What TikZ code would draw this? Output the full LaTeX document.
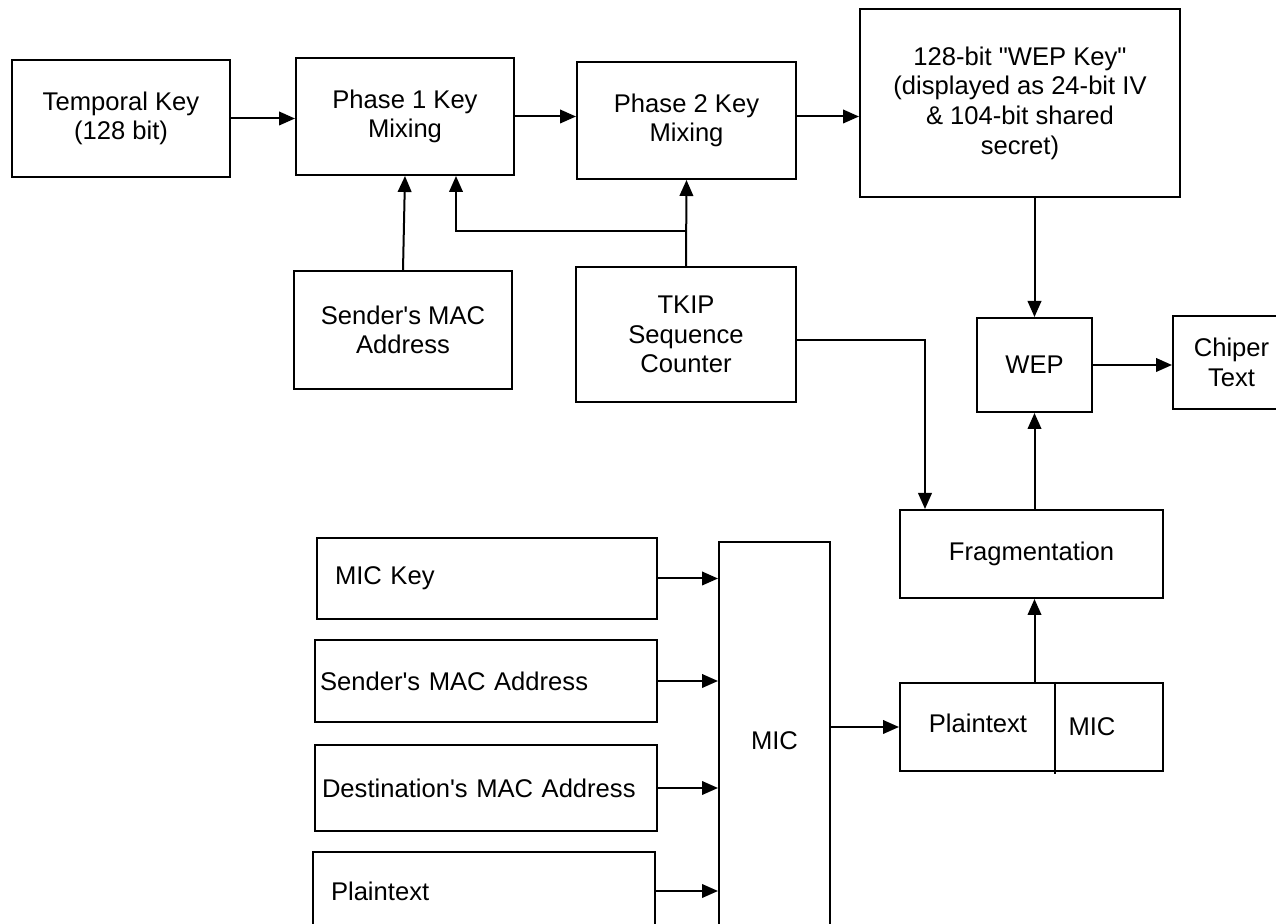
\documentclass[tikz,border=0pt]{standalone}
\usepackage{fontspec}
\setmainfont{Liberation Sans}
\usetikzlibrary{arrows.meta, calc}
\tikzset{
  lbl/.style={font=\fontsize{12.8}{14.8}\selectfont},
  blk/.style={lbl, draw, line width=1pt, inner sep=0pt, align=center},
  inbox/.style={blk, align=left, minimum height=#1},
  flow/.style={line width=1pt, -{Triangle[length=8pt, width=6.8pt]}},
}

\begin{document}
\begin{tikzpicture}[x=0.5pt, y=-0.5pt]
  \useasboundingbox (0,0) rectangle (1276,924);
  \clip (0,0) rectangle (1276,924);

  % key mixing part
  \node[blk, minimum width=109pt, minimum height=58.5pt] (tk) at (121,118.5) {Temporal Key\\(128 bit)};
  \node[blk, minimum width=109pt, minimum height=58.5pt] (p1) at (405,116.5) {Phase 1 Key\\Mixing};
  \node[blk, minimum width=109.5pt, minimum height=58.5pt] (p2) at (686.5,120.5) {Phase 2 Key\\Mixing};
  \node[blk, minimum width=160pt, minimum height=94pt] (wk) at (1020,103) {128-bit \textquotedbl WEP Key\textquotedbl\\(displayed as 24-bit IV\\\& 104-bit shared\\secret)};
  \node[blk, minimum width=109pt, minimum height=59pt] (sm) at (403,330) {Sender\textquotesingle s MAC\\Address};
  \node[blk, minimum width=110pt, minimum height=67.5pt] (tkip) at (686,334.5) {TKIP\\Sequence\\Counter};
  \node[blk, minimum width=57.5pt, minimum height=47pt] (wep) at (1034.5,365) {WEP};
  \node[blk, minimum width=58.5pt, minimum height=46.5pt] (ct) at (1231.5,362.5) {Chiper\\Text};
  \node[blk, minimum width=131.5pt, minimum height=44pt] (frag) at (1031.5,554) {Fragmentation};

  % MIC part
  \node[inbox=40.5pt, inner xsep=9pt, text width=152pt] (mk) at (487,578.5) {MIC Key};
  \node[inbox=41pt, inner xsep=2.5pt, text width=166pt] (sma) at (486,681) {Sender\textquotesingle s MAC Address};
  \node[inbox=43pt, inner xsep=3.5pt, text width=164pt] (dma) at (486,788) {Destination\textquotesingle s MAC Address};
  \node[inbox=39pt, inner xsep=9pt, text width=153pt] (pt) at (484,891) {Plaintext};
  \node[blk, minimum width=55.5pt, minimum height=199pt] (mic) at (774.5,741) {MIC};
  \node[blk, minimum width=131.5pt, minimum height=44pt] (pm) at (1031.5,727) {};
  \draw[line width=1pt] ($(pm.north west)+(156,0)$) -- ($(pm.south west)+(156,2)$);
  \node[lbl] (pmtext) at (978,723) {Plaintext};
  \node[lbl] (pmmic) at (1092,727) {MIC};

  % arrows
  \draw[flow] (tk.east) -- (tk.east -| p1.west);
  \draw[flow] (p1.east) -- (p1.east -| p2.west);
  \draw[flow] (p1.east -| p2.east) -- (p1.east -| wk.west);
  \draw[flow] (sm.north) -- (p1.south);
  \draw[flow] (tkip.north) -- (p2.south);
  \coordinate (fork) at (tkip.north |- 0,231);
  \draw[flow] (fork) -| ($(p1.south)+(51,0)$);
  \draw[flow] ([yshift=-3pt]tkip.east) -| ($(frag.north west)+(26,0)$);
  \draw[flow] (wk.south -| wep.north) -- (wep.north);
  \draw[flow] (wep.east) -- (wep.east -| ct.west);
  \draw[flow] (frag.north -| wep.south) -- (wep.south);
  \draw[flow] (pm.north -| wep.south) -- (frag.south -| wep.south);
  \foreach \src in {mk, sma, dma, pt}
    \draw[flow] (\src.east) -- (\src.east -| mic.west);
  \draw[flow] (pm.west -| mic.east) -- (pm.west);

\end{tikzpicture}
\end{document}
